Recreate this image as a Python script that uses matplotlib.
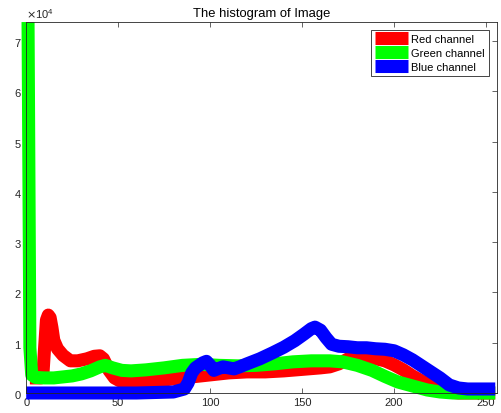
import matplotlib
matplotlib.use("Agg")
import matplotlib.pyplot as plt
import numpy as np

plt.rcParams['font.family'] = ['Liberation Sans', 'DejaVu Sans']

# intensity histogram of each channel (counts in units of 1e4)
red_x = [2, 6, 8, 9, 10, 11, 12, 13, 14, 15, 17, 20, 24, 28, 33, 37, 40, 42, 45,
         48, 51, 55, 60, 70, 80, 90, 100, 110, 120, 130, 140, 150, 160, 165, 170,
         175, 180, 188, 195, 200, 205, 210, 215, 220, 225, 230, 235, 240, 248, 255]
red_y = [0.3, 0.3, 0.3, 0.32, 0.9, 1.45, 1.55, 1.5, 1.3, 1.05, 0.88, 0.75,
         0.64, 0.64, 0.68, 0.73, 0.74, 0.68, 0.45, 0.3, 0.24, 0.22, 0.22, 0.24, 0.28,
         0.32, 0.36, 0.4, 0.42, 0.42, 0.44, 0.47, 0.5, 0.52, 0.58, 0.68, 0.72, 0.7,
         0.64, 0.56, 0.46, 0.34, 0.24, 0.14, 0.06, 0.02, 0, 0, 0, 0]

green_x = [1, 2, 3, 5, 10, 15, 20, 25, 30, 35, 40, 43, 47, 52, 57, 65, 75, 85, 95,
           105, 115, 125, 135, 145, 155, 165, 172, 180, 188, 195, 202, 210, 218, 225,
           232, 240, 248, 255]
green_y = [7.38, 0.9, 0.36, 0.31, 0.3, 0.3, 0.32, 0.34, 0.38, 0.44, 0.52, 0.55,
           0.5, 0.45, 0.44, 0.46, 0.5, 0.55, 0.57, 0.55, 0.54, 0.55, 0.58, 0.62, 0.64,
           0.64, 0.62, 0.55, 0.45, 0.33, 0.22, 0.14, 0.06, 0.02, 0, 0, 0, 0]

blue_x = [0, 20, 40, 60, 80, 86, 88, 90, 92, 94, 96, 98, 100, 102, 104, 107, 110, 113,
          116, 120, 127, 134, 140, 146, 151, 155, 157, 160, 163, 166, 170, 175, 180,
          185, 190, 195, 200, 205, 210, 215, 220, 225, 230, 235, 240, 245, 250, 255]
blue_y = [0, 0, 0, 0, 0.02, 0.08, 0.2, 0.4, 0.5, 0.55, 0.6, 0.63, 0.55, 0.45, 0.48,
          0.52, 0.5, 0.48, 0.52, 0.58, 0.68, 0.8, 0.91, 1.04, 1.17, 1.28, 1.31, 1.25,
          1.1, 0.97, 0.93, 0.92, 0.9, 0.9, 0.88, 0.87, 0.84, 0.76, 0.66, 0.54, 0.42,
          0.3, 0.16, 0.1, 0.08, 0.08, 0.08, 0.08]

labels = ["Red channel", "Green channel", "Blue channel"]
colors = ["#ff0000", "#00ff00", "#0000ff"]

fig = plt.figure(figsize=(5.02, 4.14), dpi=100)
ax = fig.add_axes([0.0522, 0.0483, 0.938, 0.8961])

series = [(red_x, red_y), (green_x, green_y), (blue_x, blue_y)]
for (xs, ys), c, lab in zip(series, colors, labels):
    ax.plot(xs, np.array(ys) * 1e4, color=c, lw=9.4, label=lab, clip_on=False,
            solid_capstyle='butt', solid_joinstyle='round')

ax.set_xlim(0, 256)
ax.set_ylim(0, 7.38e4)
ax.set_xticks([0, 50, 100, 150, 200, 250])
ax.set_yticks(np.arange(0, 8) * 1e4)
ax.ticklabel_format(axis='y', style='sci', scilimits=(4, 4), useMathText=True)
ax.yaxis.get_offset_text().set_fontsize(8)
ax.yaxis.get_offset_text().set_color('#262626')

ax.tick_params(direction='in', length=3.5, width=0.5, labelsize=8,
               colors='#262626', top=True, right=True, pad=3)
for s in ax.spines.values():
    s.set_linewidth(0.6)
    s.set_color('#262626')

ax.set_title("The histogram of Image", fontsize=9.4, color='black', pad=4)

leg = ax.legend(loc='upper right', fontsize=8, handlelength=3.0, handletextpad=0.25,
                labelspacing=0.35, borderpad=0.4, borderaxespad=0.7,
                fancybox=False, framealpha=1, edgecolor='#262626')
leg.get_frame().set_linewidth(0.6)

fig.savefig("out.png", dpi=100)
